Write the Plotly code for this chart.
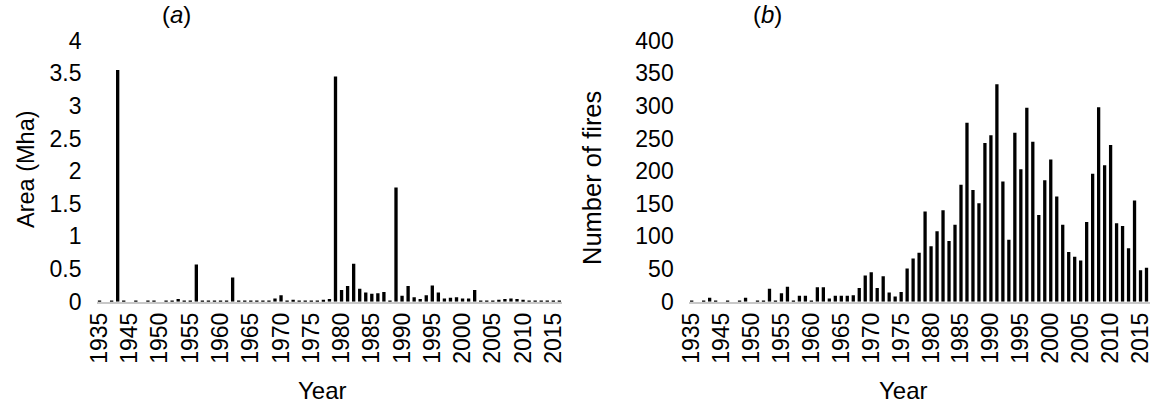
import plotly.graph_objects as go

years = ["1935", "1937", "1938", "1939", "1940"] + [str(y) for y in range(1945, 2017)]

area_mha = [0.005, 0, 0.01, 3.55, 0.005,
            0, 0.01, 0, 0.01, 0.01, 0, 0.01, 0.01, 0.04, 0.01,
            0.01, 0.57, 0.01, 0.01, 0.01, 0.01, 0.02, 0.37, 0.01, 0.01,
            0.01, 0.01, 0.01, 0.01, 0.05, 0.10, 0.01, 0.03, 0.01, 0.01,
            0.01, 0.02, 0.03, 0.04, 3.45, 0.18, 0.24, 0.58, 0.20, 0.14,
            0.12, 0.13, 0.15, 0.02, 1.75, 0.09, 0.24, 0.07, 0.04, 0.10,
            0.25, 0.14, 0.05, 0.06, 0.07, 0.05, 0.05, 0.18, 0.01, 0.01,
            0.01, 0.03, 0.04, 0.05, 0.04, 0.03, 0.01, 0.02, 0.01, 0.01,
            0.01, 0.01]

n_fires = [1, 0, 2, 6, 1,
           0, 1, 0, 2, 6, 0, 1, 1, 20, 1,
           13, 23, 2, 9, 9, 2, 22, 22, 5, 9,
           9, 9, 10, 21, 40, 45, 21, 39, 14, 8,
           15, 51, 66, 75, 138, 85, 108, 140, 93, 118,
           179, 274, 171, 151, 243, 255, 333, 184, 95, 259,
           203, 297, 245, 133, 186, 218, 161, 118, 76, 69,
           63, 122, 196, 298, 209, 240, 120, 116, 82, 155,
           48, 52]

tick_years = years[::5]
area_ticks = [0, 0.5, 1, 1.5, 2, 2.5, 3, 3.5, 4]
fire_ticks = [0, 50, 100, 150, 200, 250, 300, 350, 400]

FONT = "Arial, Liberation Sans, sans-serif"
W, H = 1155, 408

fig = go.Figure()
fig.add_trace(go.Bar(x=years, y=area_mha, marker=dict(color="black", line=dict(width=0)),
                     xaxis="x", yaxis="y", showlegend=False))
fig.add_trace(go.Bar(x=years, y=n_fires, marker=dict(color="black", line=dict(width=0)),
                     xaxis="x2", yaxis="y2", showlegend=False))

ydom = [(H - 301.7) / H, (H - 40.6) / H]
xcommon = dict(type="category", categoryorder="array", categoryarray=years,
               tickmode="array", tickvals=tick_years, ticktext=tick_years,
               tickangle=-90, showgrid=False, zeroline=False, automargin=False,
               showline=True, linecolor="#c8c8c8", linewidth=1.5,
               ticks="", tickfont=dict(family=FONT, size=23, color="black"),
               range=[-0.5, len(years) - 0.5], fixedrange=True)
ycommon = dict(showgrid=False, zeroline=False, showline=False, ticks="", automargin=False,
               tickfont=dict(family=FONT, size=23, color="black"),
               ticklabelstandoff=14, domain=ydom, fixedrange=True)

fig.update_layout(
    width=W, height=H,
    margin=dict(l=0, r=0, t=0, b=0, autoexpand=False),
    paper_bgcolor="white", plot_bgcolor="white",
    bargap=0.45,
    xaxis=dict(domain=[96.5 / W, 562.4 / W], anchor="y", **xcommon),
    yaxis=dict(range=[0, 4], tickvals=area_ticks, anchor="x", **ycommon),
    xaxis2=dict(domain=[688.7 / W, 1149.5 / W], anchor="y2", **xcommon),
    yaxis2=dict(range=[0, 400], tickvals=fire_ticks, anchor="x2", **ycommon),
)

ann = [
    dict(text="Area (Mha)", x=26 / W, y=(H - 169) / H, textangle=-90, size=23.5),
    dict(text="Number of fires", x=592 / W, y=(H - 178) / H, textangle=-90, size=25.5),
    dict(text="Year", x=322 / W, y=(H - 390) / H, size=24),
    dict(text="Year", x=903.5 / W, y=(H - 390) / H, size=24),
    dict(text="(<i>a</i>)", x=176 / W, y=(H - 15) / H, size=24),
    dict(text="(<i>b</i>)", x=767 / W, y=(H - 15) / H, size=24),
]
annotations = []
for a in ann:
    a = dict(a)
    size = a.pop("size")
    annotations.append(dict(xref="paper", yref="paper", showarrow=False,
                            xanchor="center", yanchor="middle",
                            font=dict(family=FONT, size=size, color="black"), **a))
fig.update_layout(annotations=annotations)

fig.write_html("out.html", config={"displayModeBar": False},
               post_script="document.body.style.margin='0px';document.body.style.overflow='hidden';")
